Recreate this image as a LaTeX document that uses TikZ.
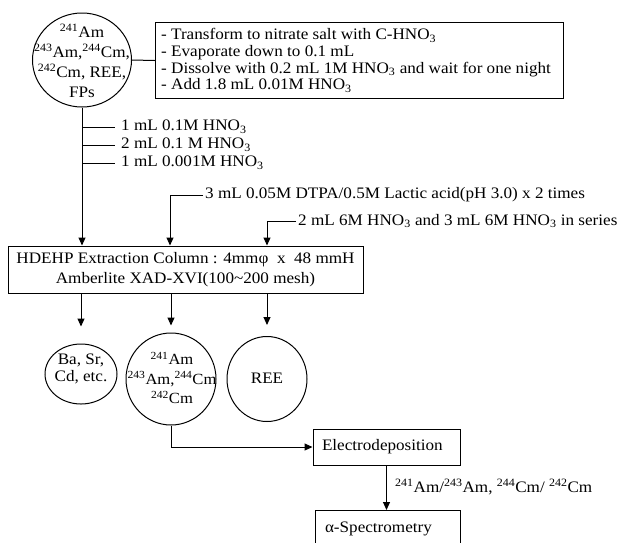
\documentclass[tikz,border=0pt]{standalone}
\usepackage{fontspec}
\setmainfont{Liberation Serif}[FakeStretch=1.07]
\usetikzlibrary{shapes.geometric,arrows.meta}
\begin{document}
\begin{tikzpicture}[x=1pt,y=-1pt,
  every node/.style={font=\fontsize{16}{17}\selectfont},
  bub/.style={draw, ellipse, inner sep=0pt, line width=1pt},
  btxt/.style={align=center, inner sep=0pt},
  boxn/.style={draw, rectangle, inner sep=0pt, line width=1pt},
  lbl/.style={anchor=west, inner xsep=2pt, inner ysep=0pt},
  arr/.style={-{Triangle[length=8pt,width=7pt]}, line width=1pt},
  ln/.style={line width=1pt}]
\useasboundingbox (0,0) rectangle (626,542);
% source
\node[bub, minimum width=99pt, minimum height=94pt] (src) at (82,60) {};
\node[btxt, font=\fontsize{16}{20}\selectfont] (srctxt) at (82,61)
  {\textsuperscript{241}Am\\\textsuperscript{243}Am,\textsuperscript{244}Cm,\\\textsuperscript{242}Cm, REE,\\FPs};
\node[boxn, anchor=north west, minimum width=408pt, minimum height=76pt] (prep) at (155,22) {};
\node[anchor=west, align=left, inner sep=0pt, font=\fontsize{16}{16.8}\selectfont] (preptxt) at ([xshift=6pt]prep.west)
  {- Transform to nitrate salt with C-HNO\textsubscript{3}\\
   - Evaporate down to 0.1 mL\\
   - Dissolve with 0.2 mL 1M HNO\textsubscript{3} and wait for one night\\
   - Add 1.8 mL 0.01M HNO\textsubscript{3}};
\draw[ln] (src.east) -- (prep.west);
% column
\node[boxn, minimum width=355pt, minimum height=47pt, align=center, font=\fontsize{16}{20}\selectfont] (col) at (185.5,269.5)
  {HDEHP Extraction Column : 4mmφ\ \ x\ \ 48 mmH\\Amberlite XAD-XVI(100\char`~200 mesh)};
\draw[arr] (src.south) -- (src.south |- col.north);
% eluents
\coordinate (b1) at (82,127);
\coordinate (b2) at (82,145);
\coordinate (b3) at (82,163);
\node[lbl] (w1) at (119,127) {1 mL 0.1M HNO\textsubscript{3}};
\node[lbl] (w2) at (119,145) {2 mL 0.1 M HNO\textsubscript{3}};
\node[lbl] (w3) at (119,163) {1 mL 0.001M HNO\textsubscript{3}};
\draw[ln] (b1) -- ([xshift=-4pt]w1.west);
\draw[ln] (b2) -- ([xshift=-4pt]w2.west);
\draw[ln] (b3) -- ([xshift=-4pt]w3.west);
\node[lbl] (dtpa) at (203,195) {3 mL 0.05M DTPA/0.5M Lactic acid(pH 3.0) x 2 times};
\draw[arr] (dtpa.west) -| ([xshift=-15.5pt]col.north);
\node[lbl] (ser) at (296,221) {2 mL 6M HNO\textsubscript{3} and 3 mL 6M HNO\textsubscript{3} in series};
\draw[arr] (ser.west) -| ([xshift=81.5pt]col.north);
% fractions
\node[bub, minimum width=72pt, minimum height=60pt] (ba) at (81,374) {};
\node[btxt, font=\fontsize{16}{17}\selectfont] (batxt) at (81,369) {Ba, Sr,\\Cd, etc.};
\node[bub, minimum width=90pt, minimum height=92pt] (am) at (171,379) {};
\node[btxt, font=\fontsize{15.5}{19.5}\selectfont] (amtxt) at (172,378)
  {\textsuperscript{241}Am\\\textsuperscript{243}Am,\textsuperscript{244}Cm\\\textsuperscript{242}Cm};
\node[bub, minimum width=80pt, minimum height=85pt] (ree) at (267,379) {};
\node[btxt] (reetxt) at (267,378) {REE};
\draw[arr, shorten >=17pt] (col.south -| ba.north) -- (ba.north);
\draw[arr, shorten >=7pt] (col.south -| am.north) -- (am.north);
\draw[arr, shorten >=11pt] (col.south -| ree.north) -- (ree.north);
% measurement
\node[boxn, minimum width=147pt, minimum height=36pt, text width=129pt, inner xsep=9pt, align=left] (ed) at (386.5,447) {Electrodeposition};
\draw[arr] (am.south) |- (ed.west);
\node[boxn, anchor=north, minimum width=145pt, text width=125pt, inner xsep=10pt, align=left, text height=22pt, text depth=28pt, inner ysep=0pt] (spec) at (387.5,510) {α-Spectrometry};
\draw[arr] (ed.south) -- (ed.south |- spec.north);
\node[lbl] (iso) at (393,487) {\textsuperscript{241}Am/\textsuperscript{243}Am, \textsuperscript{244}Cm/ \textsuperscript{242}Cm};
\end{tikzpicture}
\end{document}
